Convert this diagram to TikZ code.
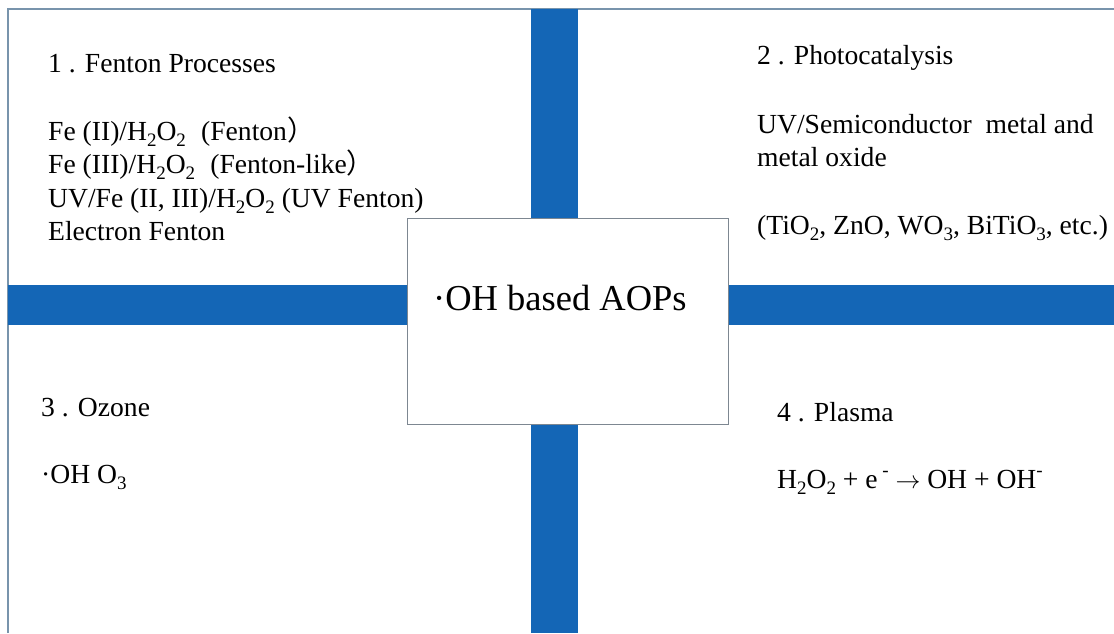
\documentclass[tikz,border=0pt]{standalone}
\usepackage{fontspec}
\setmainfont{Liberation Serif}
\newfontfamily\cjkfont{Noto Sans CJK SC}
\definecolor{barblue}{RGB}{20,102,182}
\definecolor{frameline}{RGB}{120,148,172}
\definecolor{boxline}{RGB}{125,135,145}
\newcommand\sbs[1]{\raisebox{-0.22em}{\fontsize{19}{19}\selectfont #1}}
\newcommand\sps[1]{\raisebox{0.42em}{\fontsize{19}{19}\selectfont #1}}
\begin{document}
\begin{tikzpicture}[x=1pt,y=-1pt,
  txt/.style={anchor=base west, inner sep=0pt, font=\fontsize{27.6}{32}\selectfont},
  bigtxt/.style={anchor=base west, inner sep=0pt, font=\fontsize{36.5}{42}\selectfont},
  bar/.style={fill=barblue, draw=none},
  centrebox/.style={draw=boxline, line width=1pt, fill=white, inner sep=0pt,
    minimum width=321pt, minimum height=206pt}]
\fill[white] (0,0) rectangle (1114,633);
\useasboundingbox (0,0) rectangle (1114,633);
% frame
\draw[frameline, line width=1.3pt] (8,633) -- (8,9) -- (1114,9);
% bars
\fill[bar] (531,9) rectangle (578,633);
\fill[bar] (8,285) rectangle (1114,325);
% centre box
\node[centrebox] (centre) at (567.5,321) {};
\node[bigtxt] (title) at (433,310) {·OH based AOPs};
% quadrant 1
\node[txt] (q1t) at (48,72) {1 . Fenton Processes};
\node[txt] (q1a) at (48,140) {Fe (II)/H\sbs{2}O\sbs{2}\hspace{0.3em} (Fenton{\cjkfont ）}};
\node[txt] (q1b) at (48,173.5) {Fe (III)/H\sbs{2}O\sbs{2}\hspace{0.3em} (Fenton-like{\cjkfont ）}};
\node[txt] (q1c) at (48,207) {UV/Fe (II, III)/H\sbs{2}O\sbs{2} (UV Fenton)};
\node[txt] (q1d) at (48,240.5) {Electron Fenton};
% quadrant 2
\node[txt] (q2t) at (757,64) {2 . Photocatalysis};
\node[txt] (q2a) at (757,133) {UV/Semiconductor\hspace{0.25em} metal and};
\node[txt] (q2b) at (757,166) {metal oxide};
\node[txt] (q2c) at (757,234) {(TiO\sbs{2}, ZnO, WO\sbs{3}, BiTiO\sbs{3}, etc.)};
% quadrant 3
\node[txt] (q3t) at (41,416) {3 . Ozone};
\node[txt] (q3a) at (41,483) {·OH O\sbs{3}};
% quadrant 4
\node[txt] (q4t) at (777,421) {4 . Plasma};
\node[txt] (q4a) at (777,488) {H\sbs{2}O\sbs{2} + e\,\sps{-} $\rightarrow$ OH + OH\sps{-}};
\end{tikzpicture}
\end{document}
